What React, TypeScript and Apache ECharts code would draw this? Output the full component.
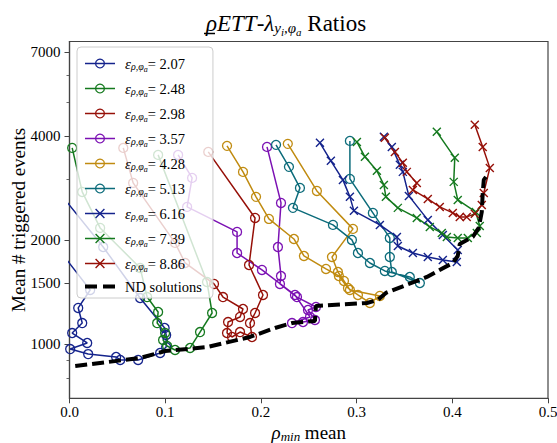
import { useEffect, useRef } from 'react';
import * as echarts from 'echarts';

const FONT = 'Liberation Serif';

// legend labels (epsilon values)
const epsLabels = ['2.07', '2.48', '2.98', '3.57', '4.28', '5.13', '6.16', '7.39', '8.86'];
const seriesColors = ['#14238c', '#14791e', '#961008', '#7b10b3', '#c08b10', '#0b6b7a', '#14238c', '#14791e', '#961008'];
const seriesMarkers = ['circle', 'circle', 'circle', 'circle', 'circle', 'circle', 'x', 'x', 'x'];

// rho_min mean (x) and mean # triggered events (y) per series
const rho207 = [-0.01, 0.0216, 0.0091, 0.0133, 0.0028, 0.0185, 0.0007, 0.0195, 0.0487, 0.053, 0.0717, 0.0947, 0.101, 0.101, 0.0994, 0.0738, 0.0352, -0.01];
const ev207 = [1862, 1436, 1274, 1152, 1078, 1009, 969, 937, 919, 901, 901, 944, 982, 1064, 1115, 1361, 1912, 2733];

const rho248 = [0.0028, 0.0133, 0.032, 0.0738, 0.0811, 0.0926, 0.0916, 0.0999, 0.0978, 0.102, 0.1103, 0.126, 0.1364, 0.149, 0.1437, 0.0926];
const ev248 = [3699, 2759, 2171, 1663, 1370, 1240, 1152, 1078, 1029, 989, 963, 976, 1085, 1232, 1514, 3531];

const rho298 = [0.0562, 0.0665, 0.1103, 0.1208, 0.151, 0.1604, 0.1813, 0.1782, 0.1657, 0.1646, 0.1698, 0.1782, 0.1907, 0.1886, 0.1939, 0.2022, 0.1876, 0.1939, 0.145];
const ev298 = [3699, 2930, 1965, 1719, 1495, 1370, 1265, 1200, 1160, 1078, 1050, 1085, 1050, 1152, 1232, 1389, 1696, 2320, 3602];

const rho357 = [0.1135, 0.1281, 0.1229, 0.1751, 0.1751, 0.2011, 0.2356, 0.2513, 0.2325, 0.244, 0.2565, 0.2492, 0.2575, 0.2377, 0.2199, 0.221, 0.2178, 0.221, 0.2064];
const ev357 = [3531, 3029, 2497, 2114, 1837, 1641, 1389, 1200, 1152, 1160, 1176, 1257, 1282, 1370, 1495, 1576, 1912, 2564, 3724];

const rho428 = [0.1646, 0.1813, 0.1949, 0.2084, 0.2345, 0.245, 0.268, 0.2815, 0.291, 0.3014, 0.3139, 0.3243, 0.293, 0.2868, 0.2805, 0.2743, 0.2962, 0.2585, 0.2281];
const ev428 = [3750, 3153, 2670, 2305, 2017, 1801, 1652, 1576, 1455, 1389, 1317, 1380, 1436, 1525, 1619, 1789, 2157, 2777, 3800];

const rho513 = [0.2158, 0.2293, 0.2408, 0.2335, 0.2753, 0.2951, 0.3014, 0.3139, 0.3295, 0.3556, 0.3661, 0.3368, 0.3347, 0.3347, 0.317, 0.293, 0.293];
const ev513 = [3775, 3260, 2834, 2481, 2215, 2004, 1837, 1719, 1630, 1566, 1504, 1619, 1789, 2031, 2399, 3009, 3876];

const rho616 = [0.2617, 0.2731, 0.2857, 0.293, 0.2972, 0.3243, 0.3421, 0.3431, 0.3588, 0.3744, 0.3901, 0.4047, 0.4057, 0.3901, 0.3744, 0.3546, 0.3483, 0.3452, 0.3368, 0.3285];
const ev616 = [3825, 3393, 2989, 2670, 2432, 2215, 2045, 1925, 1837, 1789, 1754, 1731, 1875, 2072, 2290, 2687, 3153, 3304, 3724, 3981];

const rho739 = [0.3003, 0.3087, 0.3212, 0.3285, 0.3306, 0.3431, 0.3629, 0.3765, 0.389, 0.3943, 0.4057, 0.4162, 0.4256, 0.4287, 0.4245, 0.4057, 0.4015, 0.4026, 0.3838];
const ev739 = [3850, 3485, 3175, 2891, 2670, 2481, 2320, 2185, 2100, 2045, 2031, 2031, 2100, 2200, 2415, 2616, 2950, 3462, 4117];

const rho886 = [0.3295, 0.34, 0.3483, 0.3525, 0.3629, 0.3588, 0.3744, 0.3869, 0.4005, 0.4078, 0.4151, 0.4235, 0.4308, 0.4329, 0.4392, 0.4318, 0.4235];
const ev886 = [3955, 3602, 3348, 3153, 2930, 2796, 2633, 2497, 2399, 2336, 2336, 2384, 2530, 2741, 3238, 3724, 4313];

const rhoND = [0.006, 0.0738, 0.0999, 0.1437, 0.1886, 0.2147, 0.2325, 0.2565, 0.2575, 0.3107, 0.3222, 0.3306, 0.3734, 0.4005, 0.4057, 0.4078, 0.4214, 0.4276, 0.4308, 0.4318, 0.4329, 0.4381];
const evND = [865, 913, 956, 982, 1050, 1115, 1152, 1168, 1291, 1317, 1343, 1408, 1566, 1719, 1801, 1951, 2045, 2171, 2415, 2741, 2989, 3133];

// axes
const xLimits = [0, 0.5];
const xInterval = 0.1;
const yLimits = [698, 7513];
const yMajorTicks = [1000, 1500, 2000, 4000, 7000];
const yMinorTicks = [800, 900, 3000, 5000, 6000];

const X_MARK = 'path://M0,0L10,10M10,0L0,10';
const AXIS_COLOR = '#444';

export default function App() {
  const ref = useRef<HTMLDivElement>(null);
  useEffect(() => {
    const chart = echarts.init(ref.current as HTMLDivElement, null, { renderer: 'svg' });
    const lg = (v: number) => Math.log10(v);
    const rhos = [rho207, rho248, rho298, rho357, rho428, rho513, rho616, rho739, rho886];
    const evs = [ev207, ev248, ev298, ev357, ev428, ev513, ev616, ev739, ev886];

    const series: any[] = epsLabels.map((lab, i) => {
      const c = seriesColors[i];
      const isX = seriesMarkers[i] === 'x';
      return {
        type: 'line',
        name: lab,
        data: rhos[i].map((x, j) => [x, lg(evs[i][j])]),
        symbol: isX ? X_MARK : 'circle',
        symbolSize: isX ? 8 : 9,
        showAllSymbol: true,
        lineStyle: { color: c, width: 1.5 },
        itemStyle: isX
          ? { color: c, borderColor: c, borderWidth: 1.4 }
          : { color: 'rgba(255,255,255,0)', borderColor: c, borderWidth: 1.3 },
        emphasis: { disabled: true },
        silent: true,
        clip: true,
        z: 2,
      };
    });
    series.push({
      type: 'line',
      name: 'ND solutions',
      data: rhoND.map((x, j) => [x, lg(evND[j])]),
      symbol: 'none',
      lineStyle: { color: '#000', width: 4, type: [12, 5] },
      itemStyle: { color: 'rgba(0,0,0,0)' },
      emphasis: { disabled: true },
      silent: true,
      clip: true,
      z: 3,
    });

    const legendData: any[] = epsLabels.map((lab, i) => {
      const c = seriesColors[i];
      const isX = seriesMarkers[i] === 'x';
      return {
        name: lab,
        itemStyle: isX
          ? { color: c, borderColor: c, borderWidth: 1.4 }
          : { color: 'rgba(255,255,255,0)', borderColor: c, borderWidth: 1.3 },
        lineStyle: { color: c, width: 1.5 },
      };
    });
    legendData.push({
      name: 'ND solutions',
      itemStyle: { opacity: 0 },
      lineStyle: { color: '#000', width: 4, type: [12, 6] },
    });

    const tok = (o: any) => ({ fontFamily: FONT, color: '#000', fontWeight: 'normal', ...o });

    chart.setOption({
      animation: false,
      backgroundColor: '#fff',
      title: {
        text: '{g|ρ}{i|ETT}{n|-}{i|λ}{s|y}{ss|i}{s|,φ}{ss|a}{n| Ratios}',
        left: 201,
        top: 4,
        textStyle: {
          rich: {
            g: tok({ fontSize: 23, fontStyle: 'italic', lineHeight: 28 }),
            i: tok({ fontSize: 23, fontStyle: 'italic', lineHeight: 28 }),
            n: tok({ fontSize: 23, lineHeight: 28 }),
            s: tok({ fontSize: 15, fontStyle: 'italic', lineHeight: 28, padding: [10, 0, 0, 0] }),
            ss: tok({ fontSize: 11, fontStyle: 'italic', lineHeight: 28, padding: [17, 0, 0, 0] }),
          },
        },
      },
      graphic: [
        { type: 'line', shape: { x1: 204, y1: 33.5, x2: 215, y2: 33.5 }, style: { stroke: '#000', lineWidth: 1.5 }, z: 10 },
      ],
      grid: {
        left: 69.5,
        right: 9,
        top: 41.5,
        bottom: 44.7,
        outerBoundsMode: 'none',
        containLabel: false,
        show: true,
        borderColor: AXIS_COLOR,
        borderWidth: 1.2,
        backgroundColor: 'rgba(0,0,0,0)',
      },
      legend: {
        orient: 'vertical',
        left: 77,
        top: 47,
        padding: [7, 11, 4, 6],
        itemGap: 6,
        itemWidth: 30,
        itemHeight: 11,
        backgroundColor: 'rgba(255,255,255,0.8)',
        borderColor: '#cccccc',
        borderWidth: 1,
        borderRadius: 4,
        selectedMode: false,
        data: legendData,
        formatter: (name: string) =>
          name === 'ND solutions' ? '{t|ND solutions}' : `{e|ε}{s|ρ,φ}{a|a}{m|= ${name}}`,
        textStyle: {
          fontFamily: FONT,
          fontSize: 14,
          color: '#000',
          rich: {
            e: tok({ fontSize: 15, fontStyle: 'italic', lineHeight: 16, padding: [0, 0, 0, 5] }),
            s: tok({ fontSize: 10, fontStyle: 'italic', lineHeight: 16, padding: [6, 0, 0, 0] }),
            a: tok({ fontSize: 8, fontStyle: 'italic', lineHeight: 16, padding: [11, 0, 0, 0] }),
            m: tok({ fontSize: 14.5, lineHeight: 16 }),
            t: tok({ fontSize: 14.5, lineHeight: 16, padding: [0, 0, 0, 5] }),
          },
        },
      },
      xAxis: {
        type: 'value',
        min: xLimits[0],
        max: xLimits[1],
        interval: xInterval,
        axisLine: { show: true, onZero: false, lineStyle: { color: AXIS_COLOR, width: 1.2 } },
        axisTick: { show: true, length: 5, lineStyle: { color: AXIS_COLOR, width: 1 } },
        axisLabel: {
          formatter: (v: number) => v.toFixed(1),
          fontFamily: FONT,
          fontSize: 15,
          color: '#000',
          margin: 6,
        },
        splitLine: { show: false },
        name: '{g|ρ}{s|min}{n| mean}',
        nameLocation: 'middle',
        nameGap: 23,
        nameMoveOverlap: false,
        nameTextStyle: {
          rich: {
            g: tok({ fontSize: 19, fontStyle: 'italic', lineHeight: 22 }),
            s: tok({ fontSize: 13, fontStyle: 'italic', lineHeight: 22, padding: [9, 0, 0, 0] }),
            n: tok({ fontSize: 19, lineHeight: 22 }),
          },
        },
      },
      yAxis: [
        {
          type: 'value',
          min: lg(yLimits[0]),
          max: lg(yLimits[1]),
          axisLine: { show: true, onZero: false, lineStyle: { color: AXIS_COLOR, width: 1.2 } },
          axisTick: { show: true, length: 5, customValues: yMajorTicks.map(lg), lineStyle: { color: AXIS_COLOR, width: 1 } },
          axisLabel: {
            customValues: yMajorTicks.map(lg),
            formatter: (v: number) => String(Math.round(Math.pow(10, v))),
            fontFamily: FONT,
            fontSize: 15,
            color: '#000',
            margin: 9,
          },
          splitLine: { show: false },
          name: 'Mean # triggered events',
          nameLocation: 'middle',
          nameGap: 42,
          nameMoveOverlap: false,
          nameTextStyle: { fontFamily: FONT, fontSize: 19, color: '#000' },
        },
        {
          type: 'value',
          position: 'left',
          offset: 0,
          min: lg(yLimits[0]),
          max: lg(yLimits[1]),
          axisLine: { show: false },
          axisTick: { show: true, length: 3, customValues: yMinorTicks.map(lg), lineStyle: { color: AXIS_COLOR, width: 0.8 } },
          axisLabel: { show: false },
          splitLine: { show: false },
        },
      ],
      series,
    });
    return () => chart.dispose();
  }, []);

  return (
    <div
      ref={ref}
      style={{ position: 'fixed', left: 0, top: 0, width: 557, height: 443, background: '#fff' }}
    />
  );
}
